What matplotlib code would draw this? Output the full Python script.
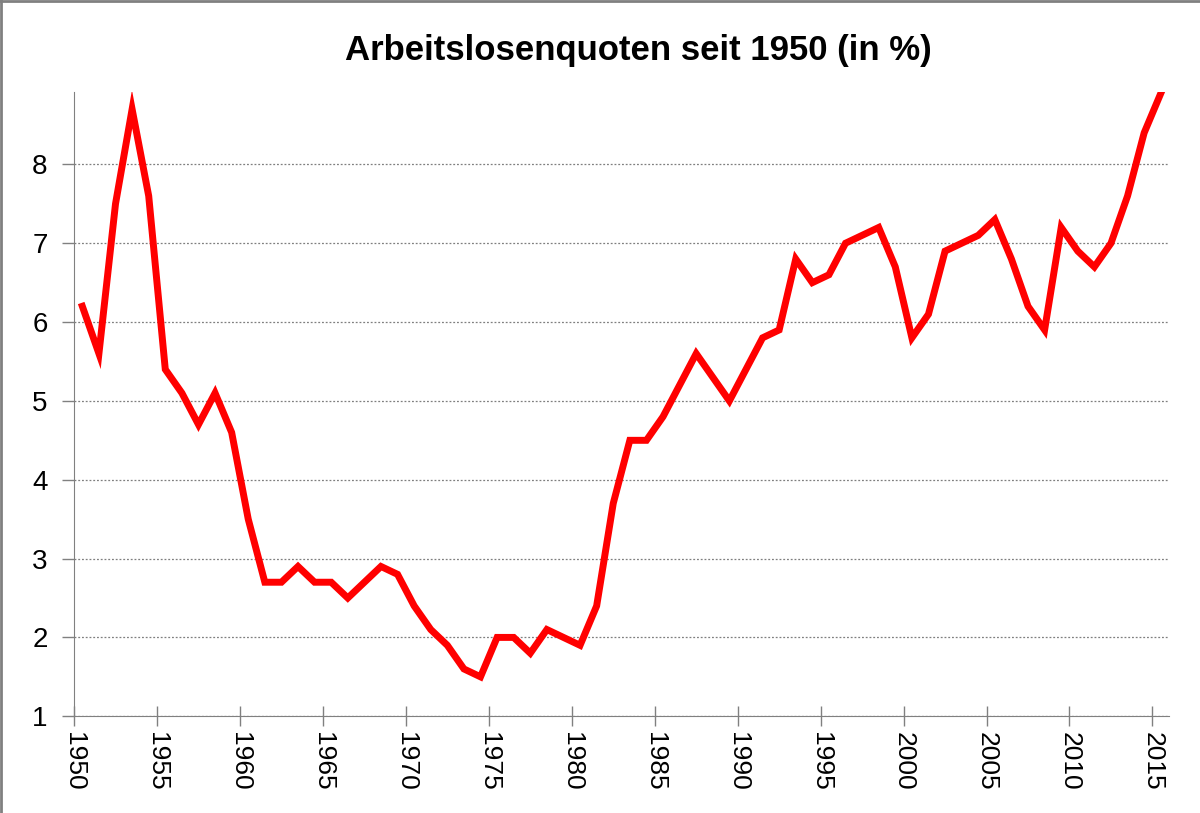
import numpy as np
import matplotlib.pyplot as plt
from matplotlib.lines import Line2D

plt.rcParams['font.family'] = ['Liberation Sans', 'DejaVu Sans']

# Arbeitslosenquote je Jahr (in %)
years = list(range(1950, 2016))
quote = [6.2, 5.6, 7.5, 8.7, 7.6, 5.4, 5.1, 4.7, 5.1, 4.6,
         3.5, 2.7, 2.7, 2.9, 2.7, 2.7, 2.5, 2.7, 2.9, 2.8,
         2.4, 2.1, 1.9, 1.6, 1.5, 2.0, 2.0, 1.8, 2.1, 2.0,
         1.9, 2.4, 3.7, 4.5, 4.5, 4.8, 5.2, 5.6, 5.3, 5.0,
         5.4, 5.8, 5.9, 6.8, 6.5, 6.6, 7.0, 7.1, 7.2, 6.7,
         5.8, 6.1, 6.9, 7.0, 7.1, 7.3, 6.8, 6.2, 5.9, 7.2,
         6.9, 6.7, 7.0, 7.6, 8.4, 8.9]
tick_years = list(range(1950, 2016, 5))
y_ticks = [1, 2, 3, 4, 5, 6, 7, 8]

fig = plt.figure(figsize=(12, 8.13), dpi=100)
ax = fig.add_axes([0.0617, 0.119, 0.9125, 0.768])

# Datenpunkte jeweils in der Mitte des Jahres
x = np.array(years) + 0.5
ax.plot(x, quote, color='#ff0000', linewidth=5, solid_joinstyle='miter', zorder=3)

ax.set_xlim(1950, 2016)
ax.set_ylim(1, 8.92)
ax.set_xticks(tick_years)
ax.set_xticklabels([str(t) for t in tick_years], rotation=-90, fontsize=19)
ax.set_yticks(y_ticks)
ax.set_yticklabels([str(t) for t in y_ticks], fontsize=20)

ax.yaxis.grid(True, linestyle=(0, (1.5, 1.5)), color='#7f7f7f', linewidth=0.9)
ax.set_axisbelow(True)

ax.spines['right'].set_visible(False)
ax.spines['top'].set_visible(False)
ax.spines['left'].set_color('#808080')
ax.spines['bottom'].set_color('#808080')
ax.tick_params(axis='x', direction='inout', length=14, width=1, color='#808080', pad=4)
ax.tick_params(axis='y', direction='out', length=9, width=1, color='#808080', pad=10)

fig.suptitle('Arbeitslosenquoten seit 1950 (in %)', fontsize=25, fontweight='bold',
             x=0.532, y=0.938, va='center')

# grauer Rahmen oben und links
fig.add_artist(Line2D([0.001, 0.001], [0, 1], transform=fig.transFigure, color='#808080', lw=2))
fig.add_artist(Line2D([0, 1], [0.999, 0.999], transform=fig.transFigure, color='#808080', lw=2))

fig.savefig('out.png', dpi=100)
